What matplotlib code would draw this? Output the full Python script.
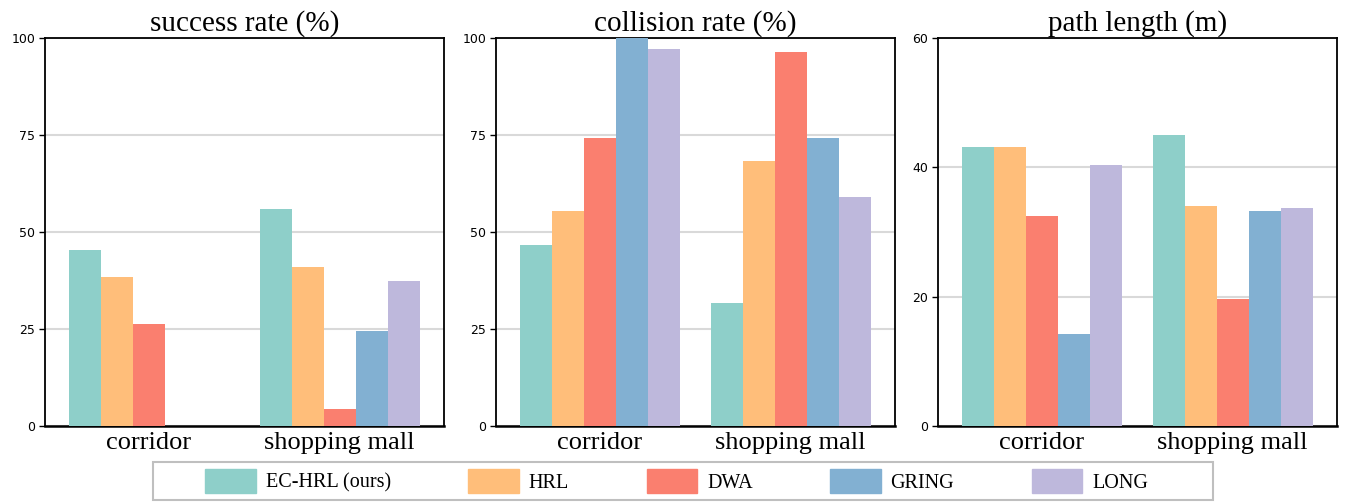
import numpy as np
import matplotlib.pyplot as plt
from matplotlib.patches import Rectangle

scenes = ["corridor", "shopping mall"]
methods = ["EC-HRL (ours)", "HRL", "DWA", "GRING", "LONG"]
colors = ["#8ECFC9", "#FFBE7A", "#FA7F6F", "#82B0D2", "#BEB8DC"]

# one row per method: [corridor, shopping mall]
success_rate = [[45.3, 56.0], [38.5, 40.9], [26.3, 4.3], [0.0, 24.5], [0.0, 37.4]]
collision_rate = [[46.7, 31.6], [55.5, 68.3], [74.3, 96.4], [100.0, 74.3], [97.2, 59.1]]
path_length = [[43.1, 45.0], [43.2, 34.0], [32.4, 19.7], [14.3, 33.2], [40.3, 33.7]]

titles = ["success rate (%)", "collision rate (%)", "path length (m)"]
ymax = [100, 100, 60]
yticks = [[0, 25, 50, 75, 100], [0, 25, 50, 75, 100], [0, 20, 40, 60]]

fig = plt.figure(figsize=(13.48, 5.04), dpi=100)
lefts = [45 / 1348, 496 / 1348, 938 / 1348]
bottom, height, width = 78 / 504, 388 / 504, 399 / 1348

x = np.arange(len(scenes))
bw = 0.168
for k, (data, title) in enumerate(zip([success_rate, collision_rate, path_length], titles)):
    ax = fig.add_axes([lefts[k], bottom, width, height])
    for i, vals in enumerate(data):
        ax.bar(x + (i - 2) * bw, vals, bw, color=colors[i], label=methods[i],
               linewidth=0, zorder=3)
    ax.set_xlim(-0.546, 1.548)
    ax.set_ylim(0, ymax[k])
    ax.set_yticks(yticks[k])
    ax.yaxis.grid(True, color="#d9d9d9", linewidth=1.5, zorder=0)
    ax.set_axisbelow(True)
    ax.set_xticks(x)
    ax.set_xticklabels(scenes, fontfamily="Liberation Serif", fontsize=19)
    ax.tick_params(axis="x", length=0, pad=4)
    ax.tick_params(axis="y", length=4, width=1, labelsize=9, pad=3)
    for s in ax.spines.values():
        s.set_linewidth(1.3)
        s.set_color("black")
    ax.spines["bottom"].set_linewidth(1.8)
    ax.set_title(title, fontfamily="Liberation Serif", fontsize=21, pad=5)

handles = [Rectangle((0, 0), 1, 1, color=c) for c in colors]
fig.legend(handles, methods, loc="center", bbox_to_anchor=(0.502, 0.0456), ncol=5,
           frameon=False, prop={"family": "Liberation Serif", "size": 14.5},
           handlelength=2.5, handleheight=1.4, handletextpad=0.5, columnspacing=3.85)
fig.patches.append(Rectangle((153 / 1348, 4 / 504), 1060 / 1348, 38 / 504,
                             transform=fig.transFigure, fill=False,
                             edgecolor="#bfbfbf", linewidth=1.5))

fig.savefig("out.png", dpi=100)
